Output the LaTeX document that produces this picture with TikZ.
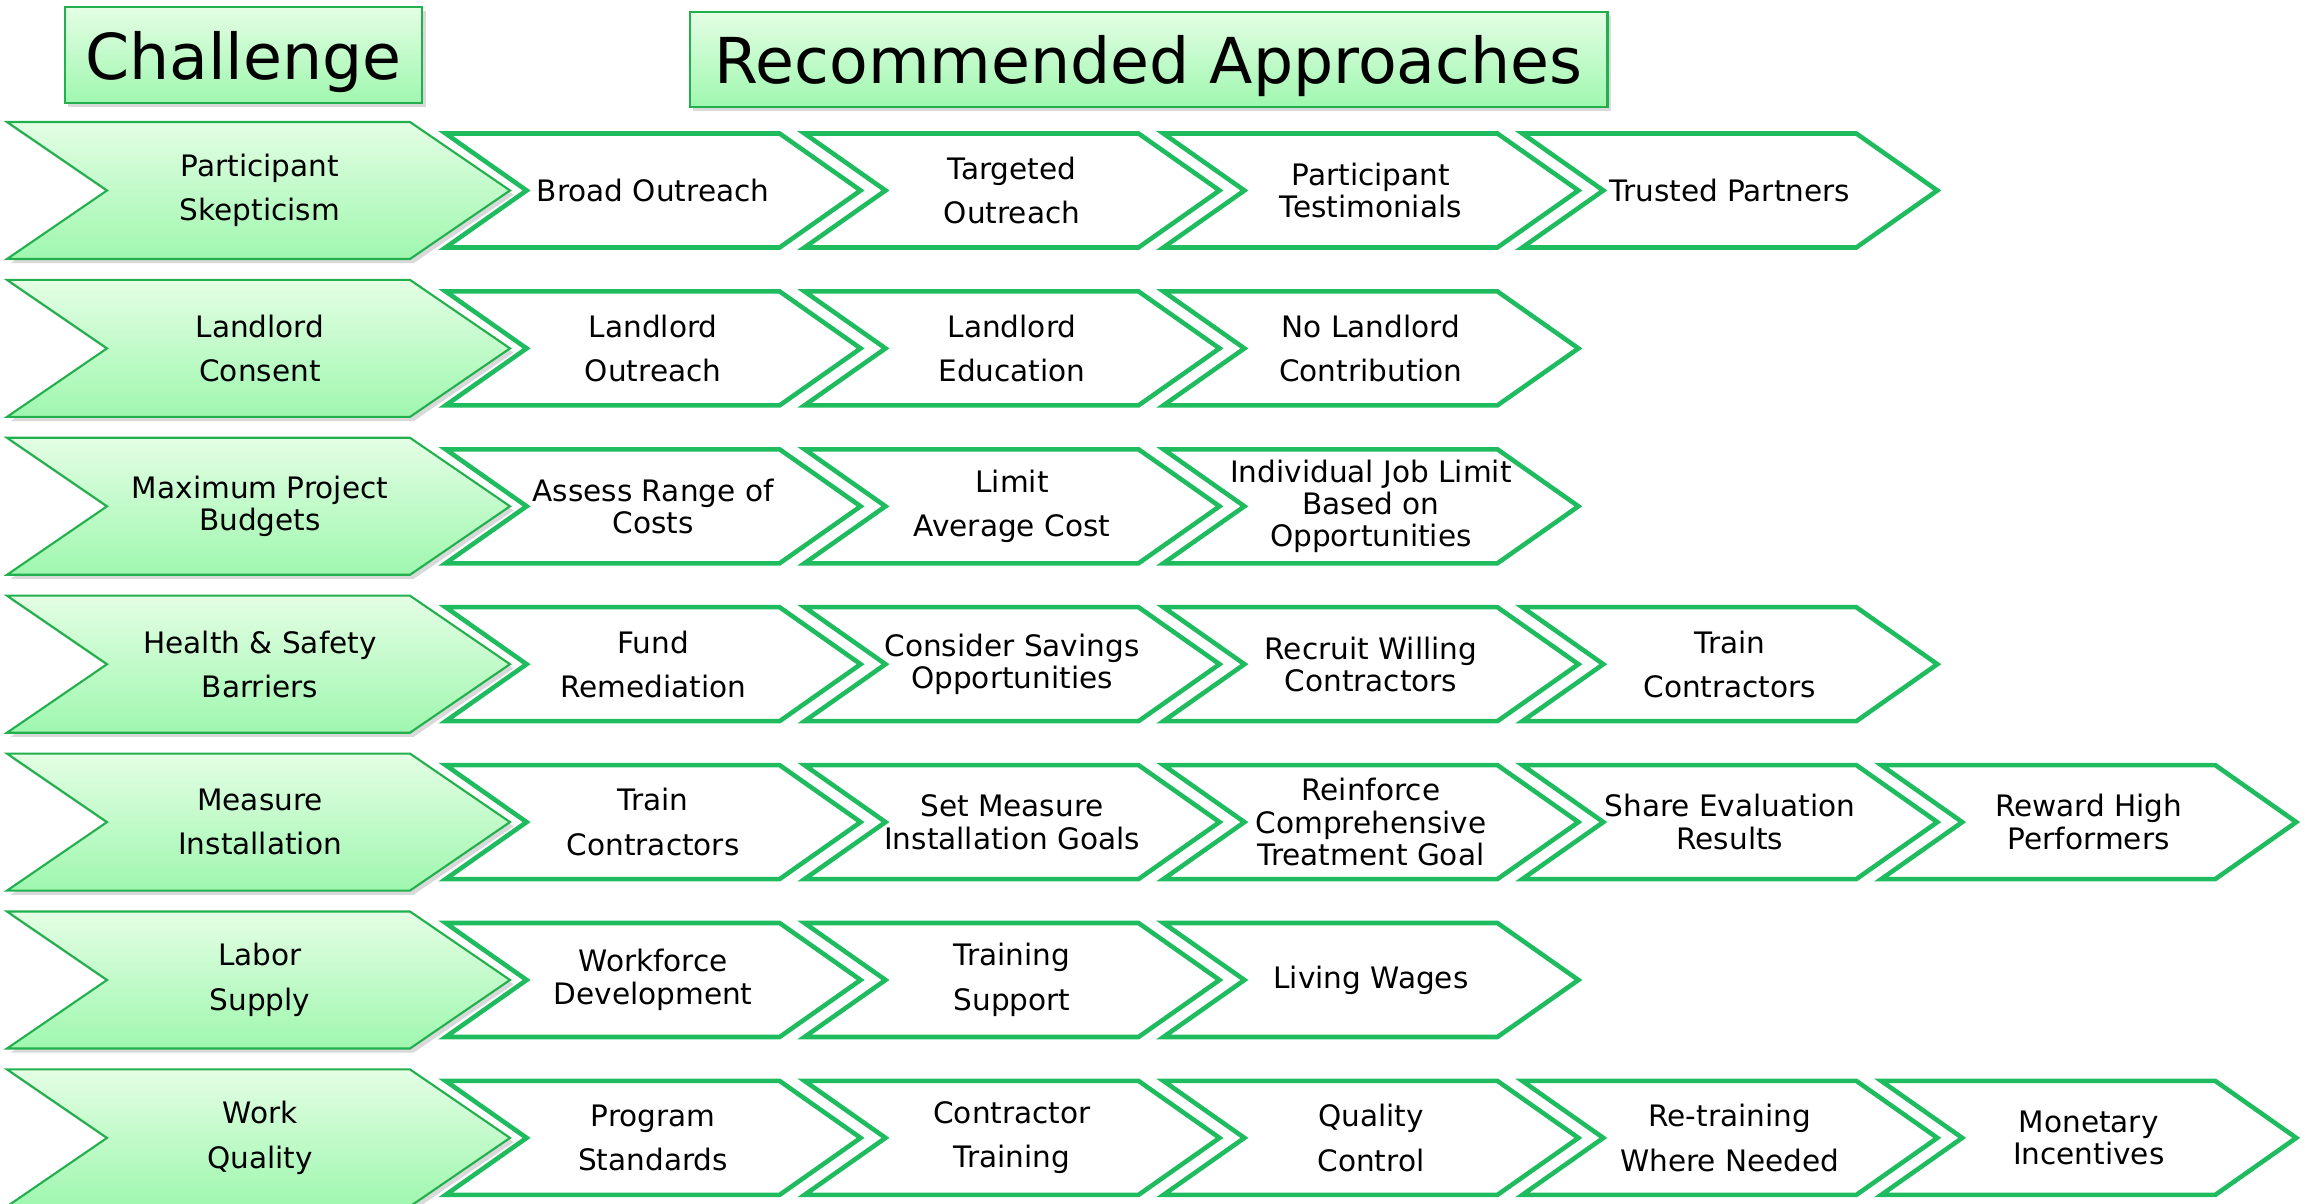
\documentclass[tikz,border=0pt]{standalone}
\usepackage{fontspec}
\setmainfont{DejaVu Sans}
\usetikzlibrary{shadows}

\definecolor{linegreen}{HTML}{1FBB5F}
\definecolor{edgegreen}{HTML}{22B04E}
\definecolor{paletop}{HTML}{E4FEE4}
\definecolor{palebot}{HTML}{9FF7AF}

\tikzset{
	headbox/.style={draw=edgegreen, line width=0.7pt, top color=paletop, bottom color=palebot,
		drop shadow={opacity=0.3, shadow xshift=1pt, shadow yshift=-1.2pt},
		inner sep=0pt, text depth=0pt, font=\fontsize{18}{20}\selectfont},
	challengebox/.style={draw=edgegreen, line width=0.6pt, top color=paletop, bottom color=palebot,
		drop shadow={opacity=0.3, shadow xshift=1pt, shadow yshift=-1.2pt}},
	approachbox/.style={draw=linegreen, line width=1.3pt, fill=white},
	labeltext/.style={align=center, inner sep=0pt, font=\fontsize{8.4}{9.2}\selectfont}
}

% #1 row, #2 name, #3 text
\newcommand{\challenge}[3]{%
	\begin{scope}[shift={(0,190.5+157.9*#1)}]
		\draw[challengebox] (7,-68.5) -- (410,-68.5) -- (510,0) -- (410,68.5) -- (7,68.5) -- (107,0) -- cycle;
		\node[labeltext] (#2) at (260,0) {#3};
	\end{scope}}

% #1 row, #2 column, #3 name, #4 text
\newcommand{\approach}[4]{%
	\begin{scope}[shift={(445.6+358.9*#2,190.5+157.9*#1)}]
		\draw[approachbox] (0,-57) -- (334,-57) -- (415,0) -- (334,57) -- (0,57) -- (81,0) -- cycle;
		\node[labeltext] (#3) at (207.5,0) {#4};
	\end{scope}}

\begin{document}
\begin{tikzpicture}[x=0.01cm, y=-0.01cm]
	\useasboundingbox (0,0) rectangle (2306,1204);

	\node[headbox, minimum width=3.57cm, minimum height=0.96cm] (chal) at (243.5,55){Challenge};
	\node[headbox, minimum width=9.17cm, minimum height=0.95cm] (recs) at (1148.5,59.5){Recommended Approaches};

	% row 0
	\challenge{0}{skep}{Participant\\[3.4pt]Skepticism}
		\approach{0}{0}{broad}{Broad Outreach}
		\approach{0}{1}{target}{Targeted\\[3.4pt]Outreach}
		\approach{0}{2}{testim}{Participant\\Testimonials}
		\approach{0}{3}{trusted}{Trusted Partners}
	% row 1
	\challenge{1}{consent}{Landlord\\[3.4pt]Consent}
		\approach{1}{0}{lloutreach}{Landlord\\[3.4pt]Outreach}
		\approach{1}{1}{lleduc}{Landlord\\[3.4pt]Education}
		\approach{1}{2}{llcontrib}{No Landlord\\[3.4pt]Contribution}
	% row 2
	\challenge{2}{budgets}{Maximum Project\\Budgets}
		\approach{2}{0}{assess}{Assess Range of\\Costs}
		\approach{2}{1}{avgcost}{Limit\\[3.4pt]Average Cost}
		\approach{2}{2}{joblimit}{Individual Job Limit\\Based on\\Opportunities}
	% row 3
	\challenge{3}{safety}{Health \& Safety\\[3.4pt]Barriers}
		\approach{3}{0}{remed}{Fund\\[3.4pt]Remediation}
		\approach{3}{1}{savings}{Consider Savings\\Opportunities}
		\approach{3}{2}{willing}{Recruit Willing\\Contractors}
		\approach{3}{3}{trainA}{Train\\[3.4pt]Contractors}
	% row 4
	\challenge{4}{install}{Measure\\[3.4pt]Installation}
		\approach{4}{0}{trainB}{Train\\[3.4pt]Contractors}
		\approach{4}{1}{goals}{Set Measure\\Installation Goals}
		\approach{4}{2}{reinforce}{Reinforce\\Comprehensive\\Treatment Goal}
		\approach{4}{3}{evalres}{Share Evaluation\\Results}
		\approach{4}{4}{reward}{Reward High\\Performers}
	% row 5
	\challenge{5}{labor}{Labor\\[3.4pt]Supply}
		\approach{5}{0}{workforce}{Workforce\\Development}
		\approach{5}{1}{trainsup}{Training\\[3.4pt]Support}
		\approach{5}{2}{wages}{Living Wages}
	% row 6
	\challenge{6}{quality}{Work\\[3.4pt]Quality}
		\approach{6}{0}{standards}{Program\\[3.4pt]Standards}
		\approach{6}{1}{ctraining}{Contractor\\[3.4pt]Training}
		\approach{6}{2}{qcontrol}{Quality\\[3.4pt]Control}
		\approach{6}{3}{retrain}{Re-training\\[3.4pt]Where Needed}
		\approach{6}{4}{incent}{Monetary\\Incentives}
\end{tikzpicture}
\end{document}
